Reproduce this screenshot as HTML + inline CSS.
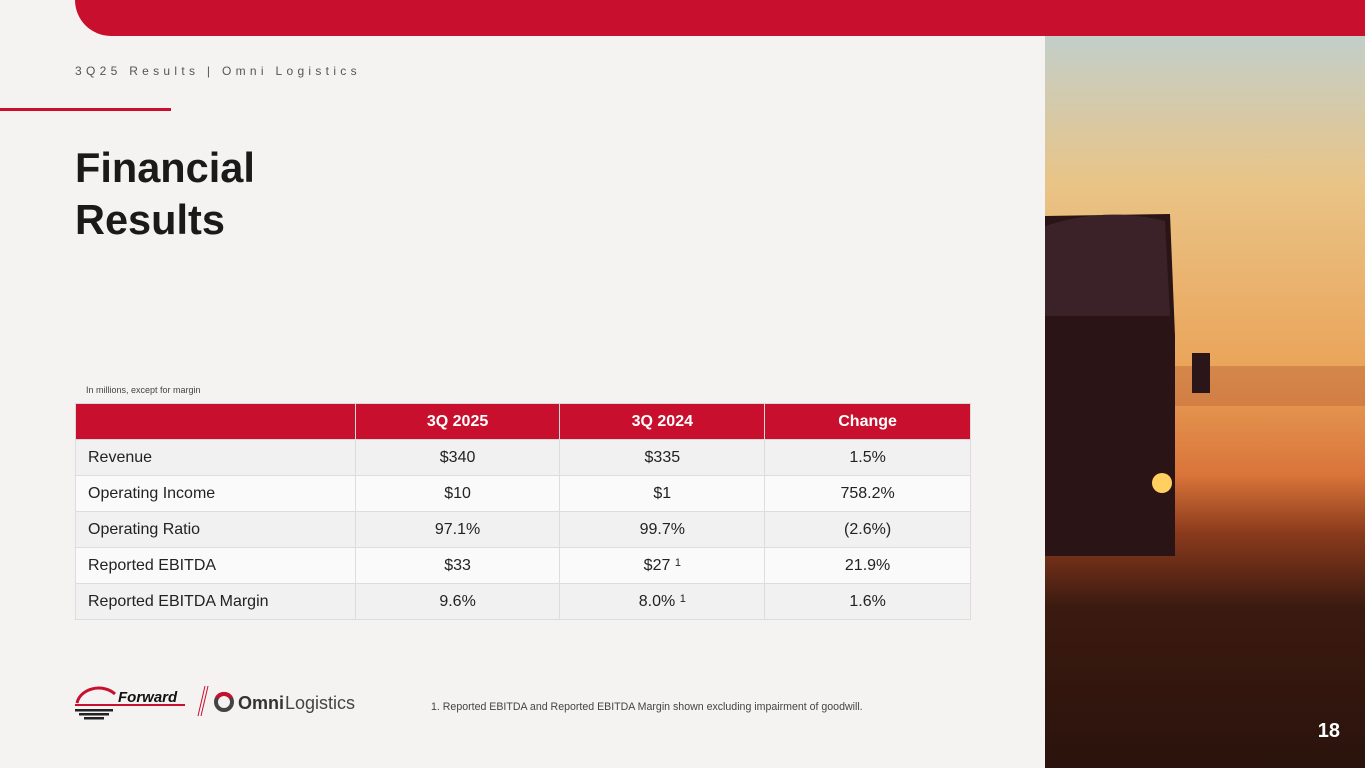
<!DOCTYPE html>
<html><head><style>
*{margin:0;padding:0;box-sizing:border-box}
html,body{width:1365px;height:768px;overflow:hidden}
body{background:#f4f3f1;position:relative;font-family:"Liberation Sans",Arial,sans-serif;color:#222}
.bar{position:absolute;left:75px;top:0;width:1290px;height:36px;background:#c8102e;border-bottom-left-radius:36px}
.sub{position:absolute;left:75px;top:64px;font-size:12px;letter-spacing:4.3px;color:#555}
.line{position:absolute;left:0;top:108px;width:171px;height:3px;background:#c8102e}
h1{position:absolute;left:75px;top:142px;font-size:41.5px;line-height:52px;font-weight:bold;color:#1a1a1a}
.note{position:absolute;left:86px;top:385px;font-size:9px;color:#444}
table{position:absolute;left:75px;top:403px;width:896px;border-collapse:collapse;font-size:16px}
td,th{height:36px;border:1px solid #ddd;text-align:center}
th{background:#c8102e;color:#fff;font-weight:bold;border-color:#d9d9d9}
td:first-child{text-align:left;padding-left:12px}
tr:nth-child(even) td{background:#f1f1f1}
tr:nth-child(odd) td{background:#fafafa}
sup{font-size:11px;vertical-align:4px}
.foot{position:absolute;left:431px;top:701px;font-size:10.6px;color:#444}
.photo{position:absolute;left:1045px;top:36px;width:320px;height:732px;background:linear-gradient(#c2cfca 0%,#e9c487 20%,#eaa55a 45%,#d9743a 60%,#8a3a1c 68%,#3b1a10 78%,#2a130c 100%)}
.pn{position:absolute;right:25px;top:684px;font-size:20px;font-weight:bold;color:#fff}
</style></head><body>
<div class="bar"></div>
<div class="sub">3Q25 Results | Omni Logistics</div>
<div class="line"></div>
<h1>Financial<br>Results</h1>
<div class="note">In millions, except for margin</div>
<table>
<colgroup><col style="width:280px"><col style="width:205px"><col style="width:205px"><col style="width:206px"></colgroup>
<tr><th></th><th>3Q 2025</th><th>3Q 2024</th><th>Change</th></tr>
<tr><td>Revenue</td><td>$340</td><td>$335</td><td>1.5%</td></tr>
<tr><td>Operating Income</td><td>$10</td><td>$1</td><td>758.2%</td></tr>
<tr><td>Operating Ratio</td><td>97.1%</td><td>99.7%</td><td>(2.6%)</td></tr>
<tr><td>Reported EBITDA</td><td>$33</td><td>$27 <sup>1</sup></td><td>21.9%</td></tr>
<tr><td>Reported EBITDA Margin</td><td>9.6%</td><td>8.0% <sup>1</sup></td><td>1.6%</td></tr>
</table>
<svg style="position:absolute;left:70px;top:680px" width="300" height="50">
<path d="M7 23 A22 18 0 0 1 45 14" stroke="#c8102e" stroke-width="3" fill="none"/>
<rect x="5" y="24" width="110" height="2" fill="#c8102e"/>
<rect x="5" y="29" width="38" height="2.5" fill="#222"/><rect x="9" y="33" width="30" height="2.5" fill="#222"/><rect x="14" y="37" width="20" height="2.5" fill="#222"/>
<text x="48" y="22" font-family="Liberation Sans" font-size="15" font-weight="bold" font-style="italic" fill="#111">Forward</text>
<line x1="135" y1="6" x2="128" y2="36" stroke="#c8102e"/><line x1="138" y1="6" x2="131" y2="36" stroke="#c8102e"/>
<circle cx="154" cy="22" r="8" stroke="#444" stroke-width="4" fill="none"/>
<path d="M147 18 A8 8 0 0 1 161 18" stroke="#c8102e" stroke-width="4" fill="none"/>
<text x="168" y="29" font-family="Liberation Sans" font-size="18" font-weight="bold" fill="#333">Omni</text>
<text x="215" y="29" font-family="Liberation Sans" font-size="18" fill="#444">Logistics</text>
</svg>
<div class="foot">1. Reported EBITDA and Reported EBITDA Margin shown excluding impairment of goodwill.</div>
<div class="photo">
<svg width="320" height="732" style="position:absolute;left:0;top:0">
<rect x="130" y="330" width="190" height="40" fill="#c06a3a" opacity="0.5"/>
<path d="M0 180 L125 178 L130 300 L130 520 L0 520 Z" fill="#2b1416"/>
<path d="M0 190 Q60 170 120 185 L125 280 L0 280Z" fill="#3a2228"/>
<circle cx="117" cy="447" r="10" fill="#ffd060"/>
<rect x="147" y="317" width="18" height="40" fill="#2a1518"/>
</svg>
<div class="pn">18</div>
</div>
</body></html>
